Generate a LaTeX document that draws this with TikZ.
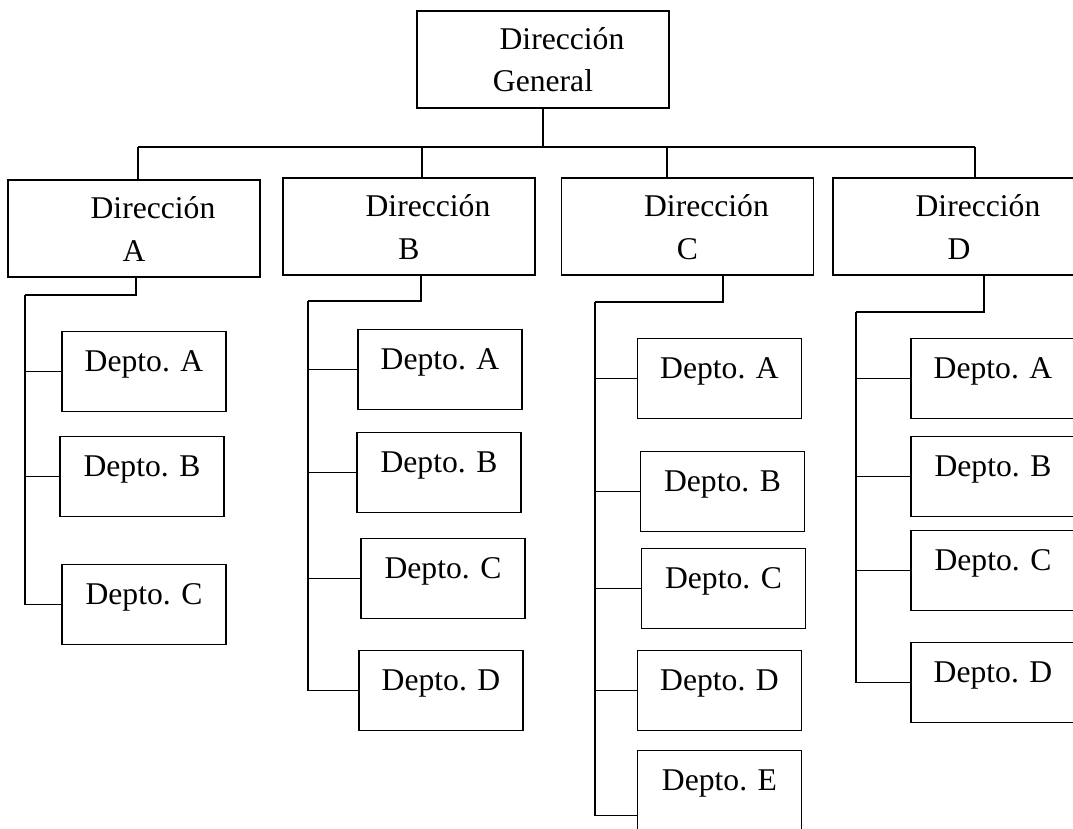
\documentclass[tikz,border=0pt]{standalone}
\usepackage{fontspec}
\setmainfont{Liberation Serif}

\tikzstyle{line} = [draw, line width=1.1pt]
\tikzstyle{bus} = [draw, line width=1.7pt]
\tikzstyle{block1} = [draw, rectangle, line width=1pt, minimum width=63mm, inner sep=0pt, align=center, text height=20.25mm, text depth=4mm, node distance=0mm, font={\fontsize{22.5pt}{30.5pt}\selectfont}]
\tikzstyle{block2} = [draw, rectangle, line width=1pt, minimum width=41mm, inner sep=0pt, text height=10mm, text depth=10mm, node distance=0mm, font={\fontsize{22.5pt}{30.5pt}\selectfont}]

\begin{document}
\begin{tikzpicture}
\useasboundingbox (-135.75mm,-192.125mm) rectangle (132.5mm,14.875mm);
% primer nivel
\node [block1] (dirg) {\hspace*{9.5mm}Dirección\\General};
% segundo nivel
\node [block1, below of=dirg, xshift=-102.25mm, yshift=-42.25mm] (dira) {\hspace*{9.5mm}Dirección\\A};
\node [block1, below of=dirg, xshift=-33.5mm, yshift=-41.75mm] (dirb) {\hspace*{9.5mm}Dirección\\B};
\node [block1, below of=dirg, xshift=36.125mm, yshift=-41.75mm] (dirc) {\hspace*{9.5mm}Dirección\\C};
\node [block1, below of=dirg, xshift=104mm, yshift=-41.75mm] (dird) {\hspace*{9.5mm}Dirección\\D};
% tercer nivel
\node [block2, below of=dira, xshift=2.5mm, yshift=-35.75mm] (depaa) {Depto. A};
\node [block2, below of=dira, xshift=2mm, yshift=-62mm] (depab) {Depto. B};
\node [block2, below of=dira, xshift=2.5mm, yshift=-94mm] (depac) {Depto. C};
\node [block2, below of=dirb, xshift=7.75mm, yshift=-35.75mm] (depba) {Depto. A};
\node [block2, below of=dirb, xshift=7.5mm, yshift=-61.5mm] (depbb) {Depto. B};
\node [block2, below of=dirb, xshift=8.5mm, yshift=-88mm] (depbc) {Depto. C};
\node [block2, below of=dirb, xshift=8mm, yshift=-116mm] (depbd) {Depto. D};
\node [block2, below of=dirc, xshift=8mm, yshift=-38mm] (depca) {Depto. A};
\node [block2, below of=dirc, xshift=8.75mm, yshift=-66.25mm] (depcb) {Depto. B};
\node [block2, below of=dirc, xshift=9mm, yshift=-90.5mm] (depcc) {Depto. C};
\node [block2, below of=dirc, xshift=8mm, yshift=-116mm] (depcd) {Depto. D};
\node [block2, below of=dirc, xshift=8mm, yshift=-141mm] (depce) {Depto. E};
\node [block2, below of=dird, xshift=8.5mm, yshift=-38mm] (depda) {Depto. A};
\node [block2, below of=dird, xshift=8.5mm, yshift=-62.5mm] (depdb) {Depto. B};
\node [block2, below of=dird, xshift=8.5mm, yshift=-86mm] (depdc) {Depto. C};
\node [block2, below of=dird, xshift=8.5mm, yshift=-114mm] (depdd) {Depto. D};
% puntos de union
\coordinate (ja) at (-101.25mm,-21.875mm);
\coordinate (jb) at (-30.25mm,-21.875mm);
\coordinate (jc) at (31mm,-21.875mm);
\coordinate (jd) at (108mm,-21.875mm);
\coordinate (sa) at (-129.5mm,-58.875mm);
\coordinate (sb) at (-58.75mm,-60.375mm);
\coordinate (sc) at (13mm,-60.625mm);
\coordinate (sd) at (78.25mm,-63.125mm);
\coordinate (ce) at ([yshift=-6.25mm]depce.west);
% lineas
% niveles 1-2
\path [line] (dirg) -- (dirg |- ja);
\path [bus] (ja) -- (jd);
\path [line] (ja) -- (ja |- dira.north);
\path [line] (jb) -- (jb |- dirb.north);
\path [line] (jc) -- (jc |- dirc.north);
\path [line] (jd) -- (jd |- dird.north);
% niveles 2-3
\path [line] ([xshift=0.5mm]dira.south) |- (sa);
\path [line] ([xshift=3mm]dirb.south) |- (sb);
\path [line] ([xshift=8.875mm]dirc.south) |- (sc);
\path [line] ([xshift=6.25mm]dird.south) |- (sd);
\path [line] (sa) -- (sa |- depac);
\path [line] (sb) -- (sb |- depbd);
\path [line] (sc) -- (sc |- ce);
\path [line] (sd) -- (sd |- depdd);
\path [line] (sa |- depaa) -- (depaa);
\path [line] (sa |- depab) -- (depab);
\path [line] (sa |- depac) -- (depac);
\path [line] (sb |- depba) -- (depba);
\path [line] (sb |- depbb) -- (depbb);
\path [line] (sb |- depbc) -- (depbc);
\path [line] (sb |- depbd) -- (depbd);
\path [line] (sc |- depca) -- (depca);
\path [line] (sc |- depcb) -- (depcb);
\path [line] (sc |- depcc) -- (depcc);
\path [line] (sc |- depcd) -- (depcd);
\path [line] (sc |- ce) -- (ce);
\path [line] (sd |- depda) -- (depda);
\path [line] (sd |- depdb) -- (depdb);
\path [line] (sd |- depdc) -- (depdc);
\path [line] (sd |- depdd) -- (depdd);
\end{tikzpicture}
\end{document}
